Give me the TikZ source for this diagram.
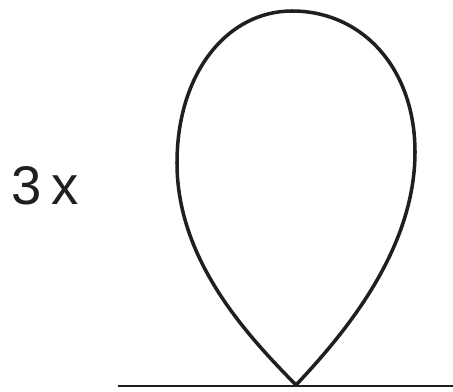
\documentclass[tikz,border=0pt]{standalone}
\usepackage{fontspec}
\setmainfont{Liberation Sans}
\usepackage{tikz}
\begin{document}
\begin{tikzpicture}[x=0.02cm,y=-0.02cm,line width=2pt,black!88]
  \useasboundingbox (0,0) rectangle (453,392);
  % ground and contact point
  \coordinate (tip) at (296,385);
  \coordinate (gl) at (118,386);
  \coordinate (gr) at (453,386);
  \draw[line width=1.7pt] (gl) -- (gr);
  % the drop
  \draw (tip) .. controls (250,338) and (177,262) .. (177,163)
              .. controls (177,72) and (228,11) .. (292,11)
              .. controls (362,11) and (415,68) .. (415,152)
              .. controls (415,250) and (344,334) .. (tip);
  \node[anchor=base west,inner sep=0pt,font=\fontsize{31}{31}\selectfont] (lbl) at (10,204) {3\,x};
\end{tikzpicture}
\end{document}
